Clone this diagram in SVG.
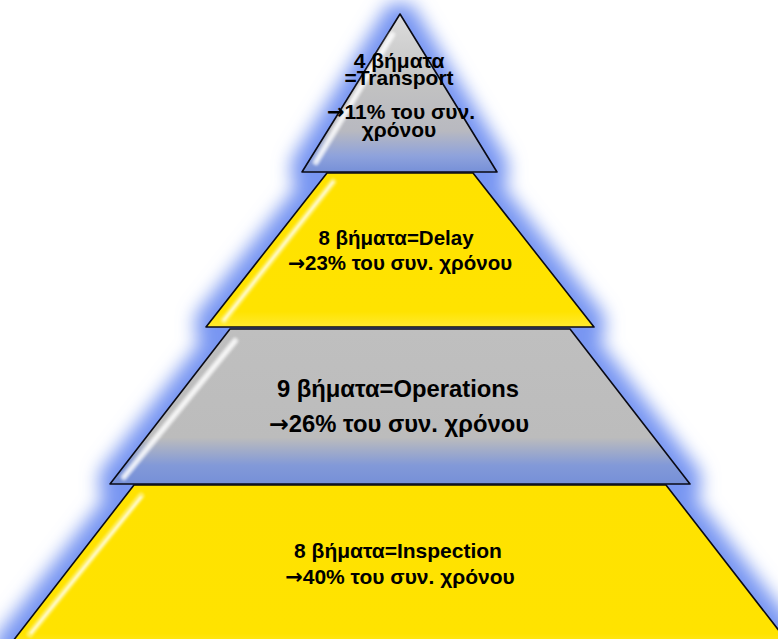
<svg xmlns="http://www.w3.org/2000/svg" width="778" height="639" viewBox="0 0 778 639">
  <style>
    .edge { stroke: #0a0a14; stroke-width: 1.6; stroke-linejoin: round; }
    .lbl { font-family: "Liberation Sans", Arial, sans-serif; font-weight: bold; fill: #000; text-anchor: middle; }
    .arr { font-family: "DejaVu Sans", sans-serif; font-weight: bold; }
    .hl-wide { fill: none; stroke-width: 7; stroke-linecap: round; opacity: 0.55; }
    .hl-core { fill: none; stroke: #ffffff; stroke-width: 2.2; stroke-linecap: round; opacity: 0.85; }
  </style>
  <defs>
    <filter id="glow" x="-20%" y="-20%" width="140%" height="140%">
      <feMorphology in="SourceAlpha" operator="dilate" radius="11" result="d"/>
      <feGaussianBlur in="d" stdDeviation="9" result="b"/>
      <feFlood flood-color="#7896f2" flood-opacity="1"/>
      <feComposite in2="b" operator="in"/>
    </filter>
    <filter id="soft" x="-50%" y="-50%" width="200%" height="200%">
      <feGaussianBlur stdDeviation="1.3"/>
    </filter>
    <linearGradient id="gTri" x1="0" y1="0" x2="0" y2="1">
      <stop offset="0" stop-color="#dcdcdc"/>
      <stop offset="0.45" stop-color="#c2c2c2"/>
      <stop offset="0.74" stop-color="#b8b9c0"/>
      <stop offset="0.9" stop-color="#8ea2dc"/>
      <stop offset="1" stop-color="#7690d8"/>
    </linearGradient>
    <linearGradient id="gGray" x1="0" y1="0" x2="0" y2="1">
      <stop offset="0" stop-color="#bfbfbf"/>
      <stop offset="0.7" stop-color="#bcbcbc"/>
      <stop offset="0.88" stop-color="#8299d8"/>
      <stop offset="1" stop-color="#7690d8"/>
    </linearGradient>
    <linearGradient id="gYel" x1="0" y1="0" x2="0" y2="1">
      <stop offset="0" stop-color="#ffe200"/>
      <stop offset="0.9" stop-color="#ffe300"/>
      <stop offset="1" stop-color="#ffea30"/>
    </linearGradient>
  </defs>

  <g id="glow-layer" filter="url(#glow)">
    <polygon points="400,14 497,172 302,172"/>
    <polygon points="327,173 473,173 594,327 206,327"/>
    <polygon points="230,329 570,329 690,484 110,484"/>
    <polygon points="134,485 666,485 794,650 6,650"/>
  </g>

  <g id="connectors"></g>

  <g id="level4">
    <polygon class="edge" points="134,485 666,485 794,650 6,650" fill="url(#gYel)"/>
    <path class="hl-wide" stroke="#fff7a0" d="M141,496 L30,634" filter="url(#soft)"/>
    <path class="hl-core" d="M141,497 L31,633" filter="url(#soft)"/>
    <text class="lbl" font-size="21" x="398" y="558">8 βήματα=Inspection</text>
    <text class="lbl" font-size="21" x="400" y="584"><tspan class="arr">→</tspan>40% του συν. χρόνου</text>
  </g>

  <g id="level3">
    <polygon class="edge" points="230,329 570,329 690,484 110,484" fill="url(#gGray)"/>
    <path class="hl-wide" stroke="#ffffff" d="M235,341 L124,477" filter="url(#soft)"/>
    <path class="hl-core" d="M235,341 L124,477" filter="url(#soft)"/>
    <text class="lbl" font-size="23.8" x="398" y="397">9 βήματα=Operations</text>
    <text class="lbl" font-size="23.8" x="399" y="432"><tspan class="arr">→</tspan>26% του συν. χρόνου</text>
  </g>

  <g id="level2">
    <polygon class="edge" points="327,173 473,173 594,327 206,327" fill="url(#gYel)"/>
    <path class="hl-wide" stroke="#fff7a0" d="M333,182 L224,320" filter="url(#soft)"/>
    <path class="hl-core" d="M333,182 L224,320" filter="url(#soft)"/>
    <text class="lbl" font-size="20.5" x="396" y="245">8 βήματα=Delay</text>
    <text class="lbl" font-size="20.5" x="400" y="270"><tspan class="arr">→</tspan>23% του συν. χρόνου</text>
  </g>

  <g id="level1">
    <polygon class="edge" points="400,14 497,172 302,172" fill="url(#gTri)"/>
    <path class="hl-wide" stroke="#ffffff" d="M392,35 L316,162" filter="url(#soft)" opacity="0.35"/>
    <path class="hl-core" d="M392,35 L316,162" filter="url(#soft)" opacity="0.6"/>
    <text class="lbl" font-size="21" x="399" y="68">4 βήματα</text>
    <text class="lbl" font-size="21" x="399" y="85">=Transport</text>
    <text class="lbl" font-size="21" x="401" y="119"><tspan class="arr">→</tspan>11% του συν.</text>
    <text class="lbl" font-size="21" x="399" y="137">χρόνου</text>
  </g>
</svg>
